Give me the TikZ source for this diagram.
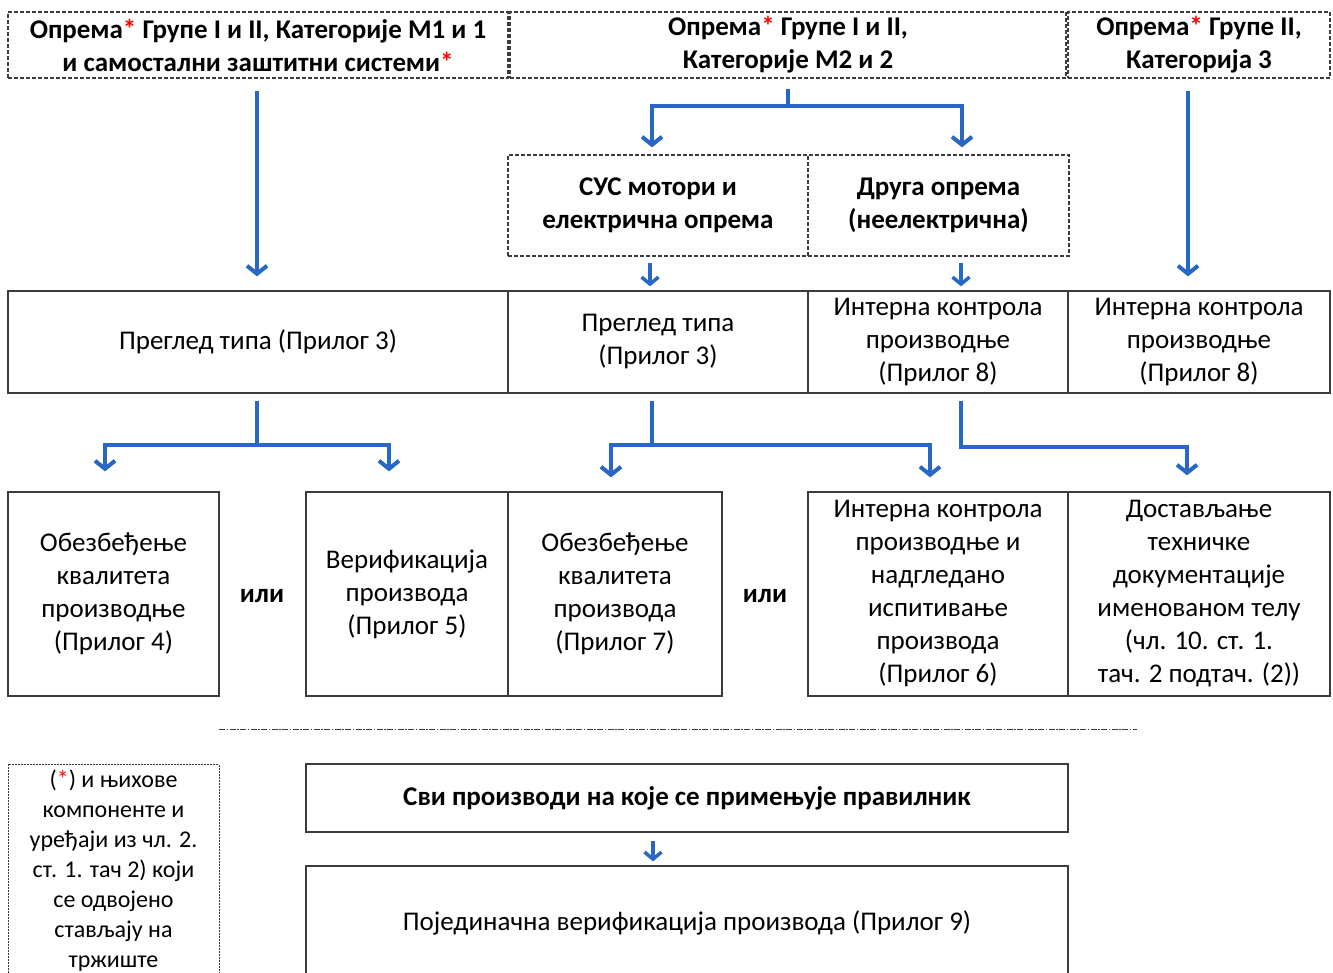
\documentclass[tikz,border=0pt]{standalone}
\usepackage{fontspec}
\setmainfont{Carlito}
\usetikzlibrary{arrows.meta}
\definecolor{arrblue}{RGB}{40,104,196}
\definecolor{boxgray}{RGB}{60,60,60}

\begin{document}
\begin{tikzpicture}[x=1pt,y=-1pt,
    cell/.style={draw=boxgray, line width=1.3pt, align=center, inner sep=0pt, font=\fontsize{27}{33}\selectfont},
    dcell/.style={cell, dash pattern=on 4pt off 2pt, font=\fontsize{27}{33}\selectfont\bfseries},
    arr/.style={draw=arrblue, line width=4pt, -{Straight Barb[length=8pt,width=20pt]}},
    sarr/.style={draw=arrblue, line width=3.5pt, -{Straight Barb[length=7pt,width=17pt]}}]
        \useasboundingbox (0,0) rectangle (1333,972);
        \clip (0,0) rectangle (1333,972);
        \node (grpM1) at (258,45) [dcell, minimum width=500pt, minimum height=66pt] {Опрема\textcolor{red}{*} Групе I и II, Категорије М1 и 1\\и самостални заштитни системи\textcolor{red}{*}};
        \node (grpM2) at (788,45) [dcell, minimum width=556pt, minimum height=66pt] {Опрема\textcolor{red}{*} Групе I и II,\\Категорије М2 и 2};
        \node (grpK3) at (1199,45) [dcell, minimum width=262pt, minimum height=66pt] {Опрема\textcolor{red}{*} Групе II,\\Категорија 3};
        \node (sus) at (658,205.5) [dcell, minimum width=300pt, minimum height=101pt] {СУС мотори и\\електрична опрема};
        \node (druga) at (938.5,205.5) [dcell, minimum width=261pt, minimum height=101pt] {Друга опрема\\(неелектрична)};
        \node (tipA) at (258,342) [cell, minimum width=500pt, minimum height=102pt] {Преглед типа (Прилог 3)};
        \node (tipB) at (658,342) [cell, minimum width=300pt, minimum height=102pt] {Преглед типа\\(Прилог 3)};
        \node (ikp8a) at (938,342) [cell, minimum width=260pt, minimum height=102pt] {Интерна контрола\\производње\\(Прилог 8)};
        \node (ikp8b) at (1199,342) [cell, minimum width=262pt, minimum height=102pt] {Интерна контрола\\производње\\(Прилог 8)};
        \node (okp4) at (113.5,594) [cell, minimum width=211pt, minimum height=204pt] {Обезбеђење\\квалитета\\производње\\(Прилог 4)};
        \node (ili1) at (262,596) [font=\fontsize{27}{33}\selectfont\bfseries] {или};
        \node (ver5) at (407,594) [cell, minimum width=202pt, minimum height=204pt] {Верификација\\производа\\(Прилог 5)};
        \node (okp7) at (615,594) [cell, minimum width=214pt, minimum height=204pt] {Обезбеђење\\квалитета\\производа\\(Прилог 7)};
        \node (ili2) at (765,596) [font=\fontsize{27}{33}\selectfont\bfseries] {или};
        \node (ikp6) at (938,594) [cell, minimum width=260pt, minimum height=204pt] {Интерна контрола\\производње и\\надгледано\\испитивање\\производа\\(Прилог 6)};
        \node (dost) at (1199,594) [cell, minimum width=262pt, minimum height=204pt] {Достављање\\техничке\\документације\\именованом телу\\(чл. 10. ст. 1.\\тач. 2 подтач. (2))};
        \draw[boxgray, line width=0.8pt, dash pattern=on 6pt off 1.5pt on 1.5pt off 1.5pt] (219,729) -- (1137,729);
        \node (napom) at (113.5,764) [cell, anchor=north, dash pattern=on 2pt off 1pt, line width=1pt, minimum width=211pt, inner ysep=5pt, font=\fontsize{24}{30}\selectfont] {(\textcolor{red}{*}) и њихове\\компоненте и\\уређаји из чл. 2.\\ст. 1. тач 2) који\\се одвојено\\стављају на\\тржиште};
        \node (svi) at (687,798) [cell, minimum width=762pt, minimum height=68pt, font=\fontsize{27}{33}\selectfont\bfseries] {Сви производи на које се примењује правилник};
        \node (poj9) at (687,923) [cell, minimum width=762pt, minimum height=114pt] {Појединачна верификација производа (Прилог 9)};

        \draw[arr, shorten <=12pt, shorten >=14pt] ([xshift=-1pt]grpM1.south) -- ([xshift=-1pt]tipA.north);
        \draw[arr, shorten <=12pt, shorten >=14pt] ([xshift=-11pt]grpK3.south) -- ([xshift=-11pt]ikp8b.north);
        \draw[arr] ([yshift=-10pt]grpM2.south) -- ++(0,17) -| ([xshift=-6pt,yshift=7pt]sus.north);
        \draw[arr] ([yshift=-10pt]grpM2.south) -- ++(0,17) -| ([xshift=23.5pt,yshift=7pt]druga.north);
        \draw[sarr, shorten <=6pt, shorten >=4pt] ([xshift=-8pt]sus.south) -- ([xshift=-8pt]tipB.north);
        \draw[sarr, shorten <=6pt, shorten >=4pt] ([xshift=22.5pt]druga.south) -- ([xshift=23pt]ikp8a.north);
        \draw[arr] ([xshift=-1pt,yshift=-7pt]tipA.south) -- ++(0,44) -| ([xshift=-8.5pt,yshift=20pt]okp4.north);
        \draw[arr] ([xshift=-1pt,yshift=-7pt]tipA.south) -- ++(0,44) -| ([xshift=-18pt,yshift=20pt]ver5.north);
        \draw[arr] ([xshift=-6pt,yshift=-7pt]tipB.south) -- ++(0,44) -| ([xshift=-4pt,yshift=14pt]okp7.north);
        \draw[arr] ([xshift=-6pt,yshift=-7pt]tipB.south) -- ++(0,44) -| ([xshift=-8pt,yshift=14pt]ikp6.north);
        \draw[arr] ([xshift=23pt,yshift=-7pt]ikp8a.south) -- ++(0,46) -| ([xshift=-12pt,yshift=16pt]dost.north);
        \draw[sarr, shorten <=8pt, shorten >=4pt] ([xshift=-34pt]svi.south) -- ([xshift=-34pt]poj9.north);
    \end{tikzpicture}
\end{document}
